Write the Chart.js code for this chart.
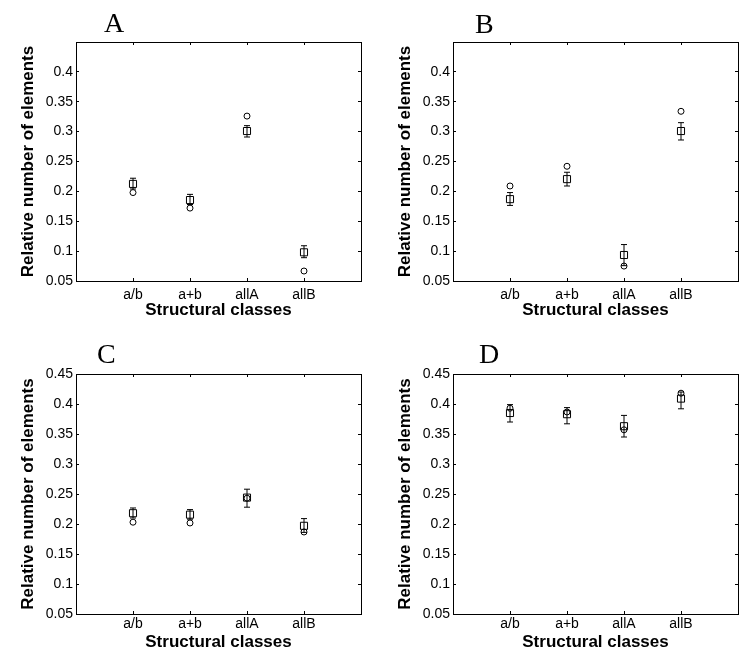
<!DOCTYPE html>
<html>
<head>
<meta charset="utf-8">
<script src="https://cdn.jsdelivr.net/npm/chart.js@4.4.1/dist/chart.umd.min.js"></script>
<style>
  html, body { margin: 0; padding: 0; background: #fff; }
  #wrap { position: relative; width: 750px; height: 660px; background: #fff; }
  #wrap canvas { position: absolute; }
</style>
</head>
<body>
<div id="wrap">
  <canvas id="cA" width="375" height="330" style="left:0;top:0"></canvas>
  <canvas id="cB" width="375" height="330" style="left:375px;top:0"></canvas>
  <canvas id="cC" width="375" height="330" style="left:0;top:330px"></canvas>
  <canvas id="cD" width="375" height="330" style="left:375px;top:330px"></canvas>
</div>
<script>
// ---------- data ----------
const categories = ['a/b', 'a+b', 'allA', 'allB'];
const yTickValues = [0.05, 0.1, 0.15, 0.2, 0.25, 0.3, 0.35, 0.4, 0.45];
const yTickLabelsTop = ['0.05', '0.1', '0.15', '0.2', '0.25', '0.3', '0.35', '0.4', ''];
const yTickLabelsBottom = ['0.05', '0.1', '0.15', '0.2', '0.25', '0.3', '0.35', '0.4', '0.45'];
const panelLetters = ['A', 'B', 'C', 'D'];
const xTitle = 'Structural classes';
const yTitle = 'Relative number of elements';

// Panel A
const circlesA = [0.198, 0.172, 0.326, 0.0667];
const squaresA = [0.2125, 0.1855, 0.301, 0.098];
const errLowA  = [0.204, 0.178, 0.291, 0.089];
const errHighA = [0.222, 0.195, 0.310, 0.109];
// Panel B
const circlesB = [0.209, 0.242, 0.075, 0.334];
const squaresB = [0.187, 0.2205, 0.0935, 0.301];
const errLowB  = [0.1765, 0.209, 0.0757, 0.286];
const errHighB = [0.198, 0.232, 0.111, 0.315];
// Panel C
const circlesC = [0.203, 0.2017, 0.243, 0.1867];
const squaresC = [0.218, 0.2156, 0.244, 0.197];
const errLowC  = [0.210, 0.208, 0.228, 0.186];
const errHighC = [0.2267, 0.224, 0.258, 0.209];
// Panel D
const circlesD = [0.393, 0.3867, 0.357, 0.418];
const squaresD = [0.385, 0.383, 0.363, 0.409];
const errLowD  = [0.370, 0.367, 0.345, 0.392];
const errHighD = [0.399, 0.394, 0.381, 0.420];

// ---------- rendering ----------
Chart.defaults.font.family = '"Liberation Sans", Arial, Helvetica, sans-serif';
Chart.defaults.color = '#000';

const letterPlugin = {
  id: 'panelLetter',
  afterDraw(chart, args, opts) {
    const ctx = chart.ctx;
    ctx.save();
    ctx.font = '28px "Liberation Serif", "Times New Roman", serif';
    ctx.fillStyle = '#000';
    ctx.textBaseline = 'alphabetic';
    ctx.textAlign = 'left';
    ctx.fillText(opts.text, opts.x, opts.y);
    ctx.restore();
  }
};

function pts(vals) { return vals.map((v, i) => ({ x: i + 1, y: v })); }
function errPts(lo, hi) {
  const out = [];
  lo.forEach((v, i) => {
    out.push({ x: i + 1, y: v });
    out.push({ x: i + 1, y: hi[i] });
    out.push({ x: i + 1, y: null });
  });
  return out;
}

const TL = -3; // inward ticks

function makeChart(id, cfg) {
  const yLabels = cfg.yLabels;
  new Chart(document.getElementById(id), {
    type: 'scatter',
    data: {
      datasets: [
        {
          label: 'circles',
          data: pts(cfg.circles),
          pointStyle: 'circle',
          pointRadius: 3,
          pointBorderWidth: 1,
          pointBorderColor: '#000',
          pointBackgroundColor: 'rgba(0,0,0,0)',
          showLine: false
        },
        {
          label: 'squares',
          data: pts(cfg.squares),
          pointStyle: 'rect',
          pointRadius: 5,
          pointBorderWidth: 1,
          pointBorderColor: '#000',
          pointBackgroundColor: 'rgba(0,0,0,0)',
          showLine: false
        },
        {
          label: 'error',
          data: errPts(cfg.lo, cfg.hi),
          showLine: true,
          spanGaps: false,
          borderColor: '#000',
          borderWidth: 1,
          pointStyle: 'line',
          pointRadius: 3,
          pointBorderWidth: 1,
          pointBorderColor: '#000',
          fill: false
        }
      ]
    },
    options: {
      responsive: false,
      animation: false,
      events: [],
      layout: { padding: { left: 0, top: cfg.top, right: cfg.right, bottom: 0 } },
      plugins: {
        legend: { display: false },
        tooltip: { enabled: false },
        panelLetter: { text: cfg.letter, x: cfg.lx, y: cfg.ly }
      },
      scales: {
        x: {
          type: 'linear', position: 'bottom', min: 0, max: 5,
          afterBuildTicks: s => { s.ticks = categories.map((c, i) => ({ value: i + 1 })); },
          afterFit: s => { s.height = cfg.xh; },
          ticks: {
            autoSkip: false, maxRotation: 0, padding: cfg.xlp,
            font: { size: 14 }, color: '#000',
            callback: v => categories[Math.round(v) - 1]
          },
          grid: { drawOnChartArea: false, drawTicks: true, tickLength: TL, color: '#000', tickWidth: 1 },
          border: { display: true, color: '#000', width: 1 },
          title: { display: true, text: xTitle, font: { size: 17, weight: 'bold' }, color: '#000',
                   padding: { top: 0, bottom: cfg.xtp } }
        },
        x2: {
          type: 'linear', position: 'top', min: 0, max: 5,
          afterBuildTicks: s => { s.ticks = categories.map((c, i) => ({ value: i + 1 })); },
          afterFit: s => { s.height = 0; },
          ticks: { display: false },
          grid: { drawOnChartArea: false, drawTicks: true, tickLength: TL, color: '#000' },
          border: { display: true, color: '#000', width: 1 }
        },
        y: {
          type: 'linear', position: 'left', min: 0.05, max: 0.45,
          afterBuildTicks: s => { s.ticks = yTickValues.map(v => ({ value: v })); },
          afterFit: s => { s.width = cfg.yw; },
          ticks: {
            autoSkip: false, padding: 6, font: { size: 14 }, color: '#000',
            callback: (v, i) => yLabels[i]
          },
          grid: { drawOnChartArea: false, drawTicks: true, tickLength: TL, color: '#000' },
          border: { display: true, color: '#000', width: 1 },
          title: { display: true, text: yTitle, font: { size: 17, weight: 'bold' }, color: '#000',
                   padding: { top: cfg.ytp, bottom: 0 } }
        },
        y2: {
          type: 'linear', position: 'right', min: 0.05, max: 0.45,
          afterBuildTicks: s => { s.ticks = yTickValues.map(v => ({ value: v })); },
          afterFit: s => { s.width = 0; },
          ticks: { display: false },
          grid: { drawOnChartArea: false, drawTicks: true, tickLength: TL, color: '#000' },
          border: { display: true, color: '#000', width: 1 }
        }
      }
    },
    plugins: [letterPlugin]
  });
}

makeChart('cA', { circles: circlesA, squares: squaresA, lo: errLowA, hi: errHighA, yLabels: yTickLabelsTop,
  letter: panelLetters[0], lx: 104, ly: 32, top: 42, right: 14, yw: 76, xh: 49, xlp: 9, xtp: 9, ytp: 18 });
makeChart('cB', { circles: circlesB, squares: squaresB, lo: errLowB, hi: errHighB, yLabels: yTickLabelsTop,
  letter: panelLetters[1], lx: 100, ly: 33, top: 42, right: 12, yw: 78, xh: 49, xlp: 9, xtp: 9, ytp: 20 });
makeChart('cC', { circles: circlesC, squares: squaresC, lo: errLowC, hi: errHighC, yLabels: yTickLabelsBottom,
  letter: panelLetters[2], lx: 97, ly: 33, top: 44, right: 14, yw: 76, xh: 46, xlp: 5, xtp: 7.5, ytp: 18.5 });
makeChart('cD', { circles: circlesD, squares: squaresD, lo: errLowD, hi: errHighD, yLabels: yTickLabelsBottom,
  letter: panelLetters[3], lx: 104, ly: 33, top: 44, right: 12, yw: 78, xh: 46, xlp: 5, xtp: 7.5, ytp: 20 });
</script>
</body>
</html>
